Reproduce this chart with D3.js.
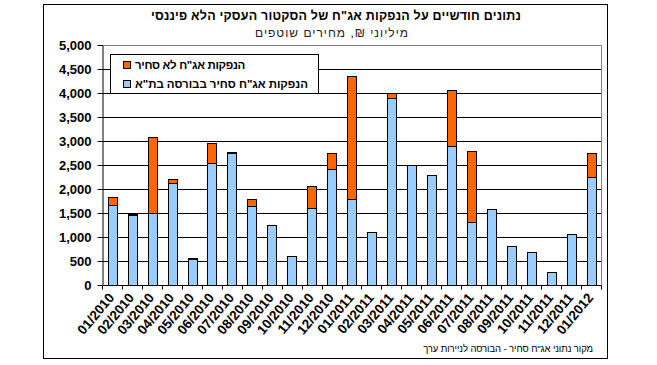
<!DOCTYPE html>
<html><head><meta charset="utf-8">
<script src="https://cdn.jsdelivr.net/npm/d3@7"></script>
<style>
body{margin:0;background:#fff;}
svg{display:block;font-family:"Liberation Sans",Arial,sans-serif;}
</style>
</head><body>
<svg id="c" width="657" height="365"></svg>
<script>
const months = ["01/2010","02/2010","03/2010","04/2010","05/2010","06/2010","07/2010","08/2010","09/2010","10/2010","11/2010","12/2010",
  "01/2011","02/2011","03/2011","04/2011","05/2011","06/2011","07/2011","08/2011","09/2011","10/2011","11/2011","12/2011","01/2012"];
const listed   = [1667,1450,1500,2125,540,2542,2750,1646,1250,604,1604,2417,1792,1104,3896,2500,2292,2896,1313,1583,812,688,271,1063,2250];
const unlisted = [167,35,1583,83,30,417,20,146,0,0,458,333,2569,0,104,0,0,1167,1479,0,0,0,0,0,500];
const yTicks = [0,500,1000,1500,2000,2500,3000,3500,4000,4500,5000];
const seriesNames = ["הנפקות אג\"ח לא סחיר","הנפקות אג\"ח סחיר בבורסה בת\"א"];
const seriesColors = ["#FF6600","#99CCFF"];
const title = "נתונים חודשיים על הנפקות אג\"ח של הסקטור העסקי הלא פיננסי";
const subtitle = "מיליוני ₪, מחירים שוטפים";
const source = "מקור נתוני אג\"ח סחיר - הבורסה לניירות ערך";

const svg = d3.select("#c");
const L = 102, R = 601, T = 45, B = 285;

function fit(sel, target){
  const node = sel.node();
  const w = node.getComputedTextLength();
  const n = sel.text().length;
  if (n > 1) sel.attr("letter-spacing", ((target - w) / n).toFixed(2) + "px");
  return sel;
}

// outer frame
svg.append("rect").attr("x",43.5).attr("y",4.5).attr("width",564).attr("height",354)
  .attr("fill","#fff").attr("stroke","#000").attr("stroke-width",1);

const x = d3.scaleBand().domain(months).range([L,R]).padding(0);
const y = d3.scaleLinear().domain([0,5000]).range([B,T]);

// plot border top/right (gray)
svg.append("path").attr("d",`M${L},${T+0.5}H${R+0.5}V${B}`).attr("fill","none").attr("stroke","#808080");

// gridlines
svg.append("g").selectAll("line").data(yTicks.filter(d=>d>0 && d<5000)).join("line")
  .attr("x1",L).attr("x2",R).attr("y1",d=>Math.round(y(d))+0.5).attr("y2",d=>Math.round(y(d))+0.5)
  .attr("stroke","#000").attr("stroke-width",1);

// bars
const bw = x.bandwidth()*0.43;
const stack = d3.stack().keys(["listed","unlisted"])(months.map((m,i)=>({m,listed:listed[i],unlisted:unlisted[i]})));
const cols = {listed:seriesColors[1], unlisted:seriesColors[0]};
stack.forEach(s=>{
  svg.append("g").selectAll("rect").data(s.filter(d=>d[1]-d[0]>0)).join("rect")
    .attr("x",d=>Math.round(x(d.data.m)+x.bandwidth()/2-bw/2)+0.5)
    .attr("width",Math.round(bw))
    .attr("y",d=>Math.round(y(d[1]))+0.5)
    .attr("height",d=>Math.max(0,Math.round(y(d[0]))-Math.round(y(d[1]))))
    .attr("fill",cols[s.key]).attr("stroke","#000").attr("stroke-width",1);
});

// y axis
const ya = svg.append("g").attr("transform",`translate(${L+0.5},0)`)
  .call(d3.axisLeft(y).tickValues(yTicks).tickFormat(d3.format(",")).tickSize(5).tickSizeOuter(0).tickPadding(6));
ya.selectAll("text").attr("font-size","13px").attr("font-weight","bold").attr("fill","#000").attr("font-family","Liberation Sans, Arial, sans-serif");
ya.select(".domain").attr("stroke","#000");
ya.selectAll(".tick line").attr("stroke","#000");

// x axis
const xa = svg.append("g").attr("transform",`translate(0,${B+0.5})`);
xa.append("line").attr("x1",L).attr("x2",R+0.5).attr("stroke","#000");
xa.selectAll("line.t").data(months.map(m=>x(m)).concat([R])).join("line").attr("class","t")
  .attr("x1",d=>Math.round(d)+0.5).attr("x2",d=>Math.round(d)+0.5).attr("y1",0).attr("y2",4).attr("stroke","#000");
const xl = svg.append("g").attr("transform",`translate(0,${B})`)
  .call(d3.axisBottom(x).tickSize(0).tickPadding(0));
xl.select(".domain").remove();
xl.selectAll("text").attr("font-size","13.5px").attr("font-weight","bold").attr("fill","#000")
  .attr("font-family","Liberation Sans, Arial, sans-serif")
  .attr("text-anchor","end").attr("dy",0)
  .attr("transform","translate(3,13) rotate(-50)");

// legend
const lg = svg.append("g");
lg.append("rect").attr("x",110.5).attr("y",54.5).attr("width",208).attr("height",39).attr("fill","#fff").attr("stroke","#000");
const legendLen = [110,173];
seriesNames.forEach((n,i)=>{
  const yy = 61 + i*19;
  lg.append("rect").attr("x",123.5).attr("y",yy+0.5).attr("width",7).attr("height",7).attr("fill",seriesColors[i]).attr("stroke","#000");
  const t = lg.append("text").attr("x",135).attr("y",yy+8).attr("direction","rtl").attr("text-anchor","end")
    .attr("font-size","11.5px").attr("font-weight","bold").text(n);
  fit(t, legendLen[i]);
});

// titles
fit(svg.append("text").attr("x",336).attr("y",20).attr("text-anchor","middle").attr("direction","rtl")
  .attr("font-size","12.5px").attr("font-weight","bold").text(title), 370);
fit(svg.append("text").attr("x",332).attr("y",37).attr("text-anchor","middle").attr("direction","rtl")
  .attr("font-size","12px").attr("fill","#222").text(subtitle), 154);
fit(svg.append("text").attr("x",593).attr("y",352).attr("text-anchor","start").attr("direction","rtl")
  .attr("font-size","9.5px").text(source), 170);
</script>
</body></html>
